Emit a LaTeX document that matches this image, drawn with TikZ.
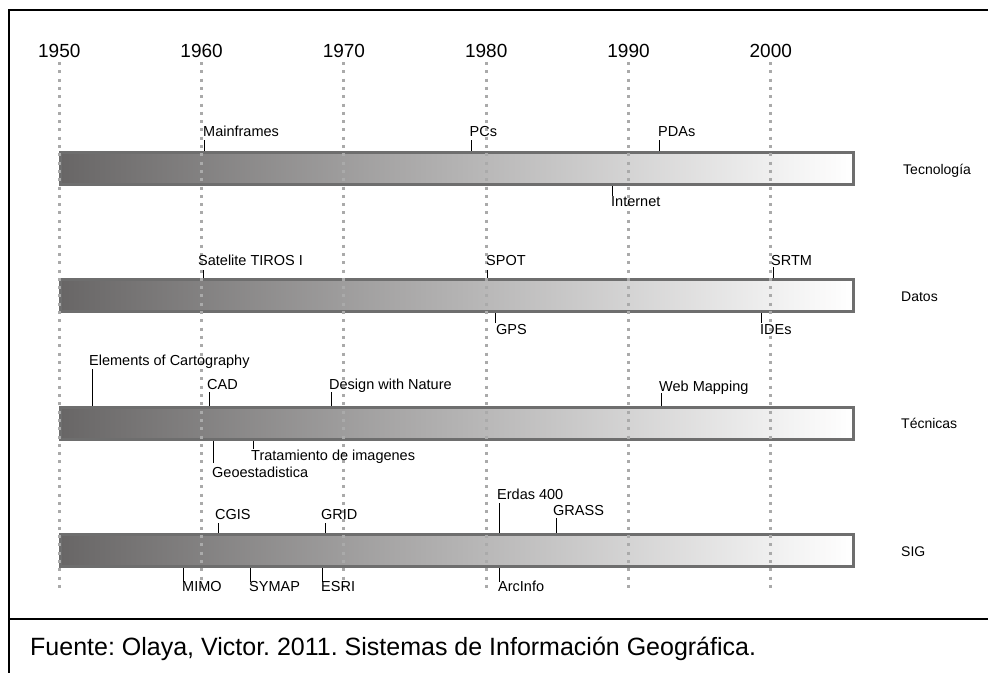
\documentclass[tikz,border=0pt]{standalone}
\usepackage{fontspec}
\setmainfont{Liberation Sans}
\definecolor{barL}{RGB}{104,102,102}
\definecolor{barB}{RGB}{110,110,110}
\definecolor{dotc}{RGB}{170,170,170}
\frenchspacing
\begin{document}
\begin{tikzpicture}[x=1pt,y=-1pt,
  tlbar/.style={draw=barB, line width=3pt, left color=barL, right color=white,
    minimum width=793pt, minimum height=32pt, inner sep=0pt},
  evtick/.style={draw=black, line width=0.9pt},
  evlab/.style={anchor=base west, inner sep=0pt, font=\fontsize{14.5}{16}\selectfont},
  rowlab/.style={anchor=base west, inner sep=0pt, font=\fontsize{14}{16}\selectfont},
  yearlab/.style={anchor=base, inner sep=0pt, font=\fontsize{19}{22}\selectfont},
  decline/.style={draw=dotc, line width=3pt, dash pattern=on 3pt off 5.3pt},
  frameline/.style={draw=black, line width=2pt}]
\useasboundingbox (0,0) rectangle (988,673);
\fill[white] (0,0) rectangle (988,673);
% frame
\draw[frameline] (988,10) -- (8.5,10) -- (8.5,673);
\draw[frameline] (8.5,619.3) -- (988,619.3);
% bars
\node[tlbar] (tec) at (457,168.5) {};
\node[tlbar] (dat) at (457,295.5) {};
\node[tlbar] (tcn) at (457,423.5) {};
\node[tlbar] (sig) at (457,550) {};
% decade lines and years
\foreach \yr/\xx in {1950/59.3,1960/201.6,1970/343.9,1980/486.2,1990/628.5,2000/770.8}{
  \node[yearlab] (y\yr) at (\xx,57) {\yr};
  \draw[decline] (\xx,62) -- (\xx,588);
}
% row labels
\node[rowlab] (ltec) at (903,174.5) {Tecnología};
\node[rowlab] (ldat) at (901,301.7) {Datos};
\node[rowlab] (ltcn) at (901,428.3) {Técnicas};
\node[rowlab] (lsig) at (901,556.7) {SIG};
% Tecnologia
\node[evlab] (mainframes) at (203,136) {Mainframes};
\draw[evtick] (204,140) -- (204,140 |- tec.north);
\node[evlab] (pcs) at (469.5,136) {PCs};
\draw[evtick] (471,140) -- (471,140 |- tec.north);
\node[evlab] (pdas) at (658,136) {PDAs};
\draw[evtick] (659,140) -- (659,140 |- tec.north);
\node[evlab] (internet) at (611,206.5) {Internet};
\draw[evtick] (612,196) -- (612,196 |- tec.south);
% Datos
\node[evlab] (tiros) at (198,265.7) {Satelite TIROS I};
\draw[evtick] (203,270) -- (203,270 |- dat.north);
\node[evlab] (spot) at (486,265.7) {SPOT};
\draw[evtick] (487,270) -- (487,270 |- dat.north);
\node[evlab] (srtm) at (771,265.7) {SRTM};
\draw[evtick] (773,267) -- (773,267 |- dat.north);
\node[evlab] (gps) at (496,334.3) {GPS};
\draw[evtick] (495,323) -- (495,323 |- dat.south);
\node[evlab] (ides) at (760,334.3) {IDEs};
\draw[evtick] (761,323) -- (761,323 |- dat.south);
% Tecnicas
\node[evlab] (elements) at (89,365.7) {Elements of Cartography};
\draw[evtick] (92,369) -- (92,369 |- tcn.north);
\node[evlab] (cad) at (207,389.3) {CAD};
\draw[evtick] (209,392) -- (209,392 |- tcn.north);
\node[evlab] (design) at (329,389.3) {Design with Nature};
\draw[evtick] (331,392) -- (331,392 |- tcn.north);
\node[evlab] (webmap) at (659,391) {Web Mapping};
\draw[evtick] (661,393) -- (661,393 |- tcn.north);
\node[evlab] (tratam) at (251,460.7) {Tratamiento de imagenes};
\draw[evtick] (253,449) -- (253,449 |- tcn.south);
\node[evlab] (geoest) at (212,477.3) {Geoestadistica};
\draw[evtick] (213,463) -- (213,463 |- tcn.south);
% SIG
\node[evlab] (cgis) at (215,519) {CGIS};
\draw[evtick] (218,523) -- (218,523 |- sig.north);
\node[evlab] (grid) at (321,519) {GRID};
\draw[evtick] (325,523) -- (325,523 |- sig.north);
\node[evlab] (erdas) at (497,499.3) {Erdas 400};
\draw[evtick] (499,503) -- (499,503 |- sig.north);
\node[evlab] (grass) at (553,515) {GRASS};
\draw[evtick] (556,518) -- (556,518 |- sig.north);
\node[evlab] (mimo) at (182,591) {MIMO};
\draw[evtick] (183,582) -- (183,582 |- sig.south);
\node[evlab] (symap) at (249,591) {SYMAP};
\draw[evtick] (250,582) -- (250,582 |- sig.south);
\node[evlab] (esri) at (321,591) {ESRI};
\draw[evtick] (322,582) -- (322,582 |- sig.south);
\node[evlab] (arcinfo) at (498,591) {ArcInfo};
\draw[evtick] (499,582) -- (499,582 |- sig.south);
% footer
\node[anchor=base west, inner sep=0pt, font=\fontsize{25}{30}\selectfont] (fuente) at (30,655.5)
  {Fuente: Olaya, Victor. 2011. Sistemas de Información Geográfica.};
\end{tikzpicture}
\end{document}
